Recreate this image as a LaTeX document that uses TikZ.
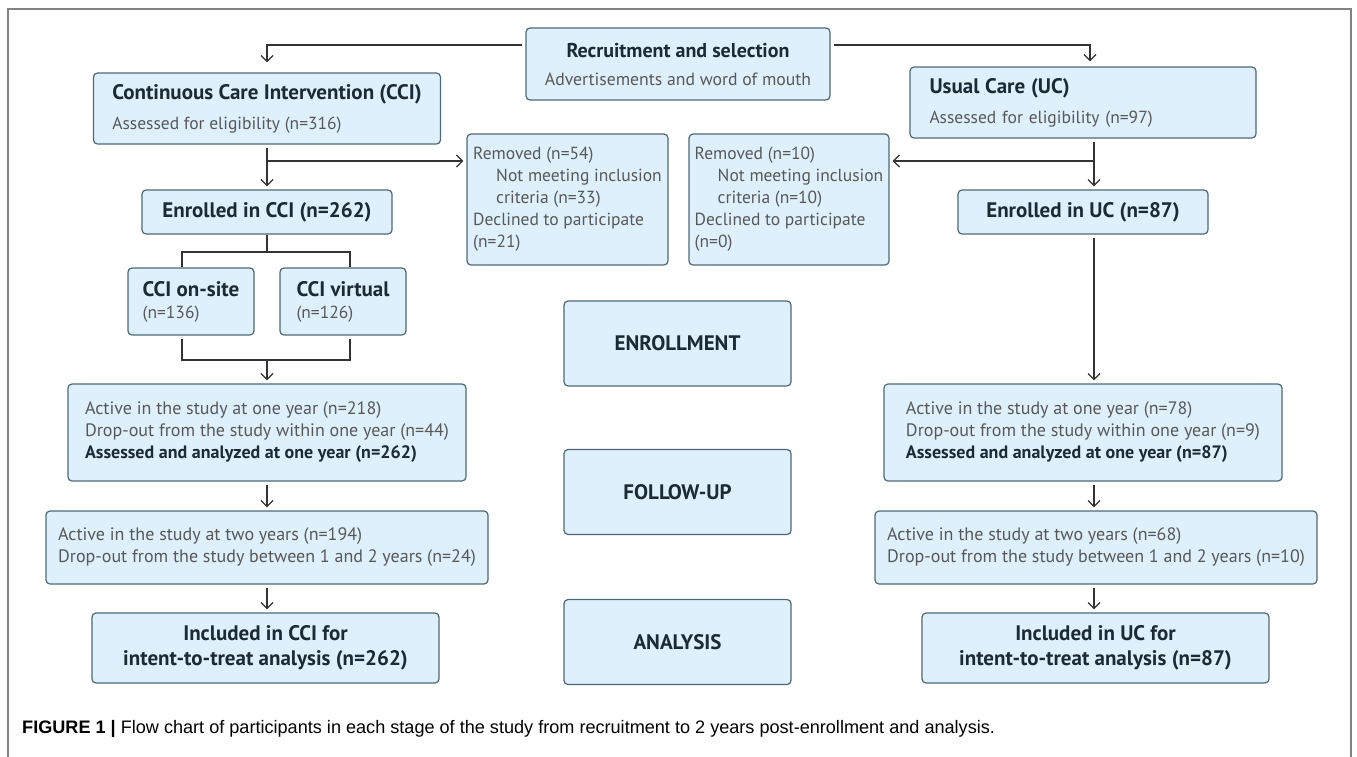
\documentclass[tikz,border=0pt]{standalone}
\usepackage{fontspec}
\setmainfont{PT Sans}
\newfontfamily\capfont{Liberation Sans}
\usepackage{tikz}
\usetikzlibrary{arrows.meta}
\definecolor{boxfill}{RGB}{222,240,251}
\definecolor{boxline}{RGB}{78,104,118}
\definecolor{headtxt}{RGB}{28,42,52}
\definecolor{bodytxt}{RGB}{88,88,88}
\definecolor{framegrey}{RGB}{130,130,130}
\tikzstyle{group} = [rectangle, rounded corners=4pt, draw=boxline, fill=boxfill, line width=1.2pt, text=bodytxt, font=\fontsize{17.5}{22}\selectfont, align=left, inner sep=0pt]
\tikzstyle{single} = [rectangle, rounded corners=4pt, draw=boxline, fill=boxfill, line width=1.2pt, text=headtxt, font=\fontsize{21}{25}\selectfont\bfseries, align=center, inner sep=0pt]
\tikzstyle{phase} = [single, minimum width=227pt, minimum height=85pt]
\tikzstyle{arrow} = [line width=1.3pt, draw=black!80, -{Straight Barb[length=6pt,width=12pt]}, shorten >=3pt, shorten <=3pt]
\tikzstyle{line} = [line width=1.3pt, draw=black!80]

\begin{document}
\begin{tikzpicture}[x=1pt, y=-1pt]
    \useasboundingbox (0,0) rectangle (1357,756);
    \draw [framegrey, line width=1.2pt] (8,770) -- (8,9) -- (1351,9) -- (1351,770);
    % top row
    \node (rec) [single, minimum width=304pt, minimum height=72pt, font=\fontsize{20}{22}\selectfont\bfseries] at (678,64) {Recruitment and selection\\[6pt] {\mdseries\fontsize{17.7}{22}\selectfont\color{bodytxt}Advertisements and word of mouth}};
    \node (cci) [group, minimum width=347pt, minimum height=71pt] at (267,108.5) {{\fontsize{21}{22}\selectfont\bfseries\color{headtxt}Continuous Care Intervention (CCI)}\\[8pt] Assessed for eligibility (n=316)};
    \node (uc) [group, minimum width=346pt, minimum height=71pt, text width=307pt] at (1083,102.5) {{\fontsize{21}{22}\selectfont\bfseries\color{headtxt}Usual Care (UC)}\\[8pt] Assessed for eligibility (n=97)};
    % removed
    \node (reml) [group, minimum width=201pt, minimum height=131pt] at (567.5,199.5) {Removed (n=54)\\ \hspace*{23pt}Not meeting inclusion\\ \hspace*{23pt}criteria (n=33)\\ Declined to participate\\ (n=21)};
    \node (remr) [group, minimum width=200pt, minimum height=131pt] at (789,199.5) {Removed (n=10)\\ \hspace*{23pt}Not meeting inclusion\\ \hspace*{23pt}criteria (n=10)\\ Declined to participate\\ (n=0)};
    % enrollment
    \node (enrcci) [single, minimum width=250pt, minimum height=44pt] at (267,212) {Enrolled in CCI (n=262)};
    \node (enruc) [single, minimum width=250pt, minimum height=44pt] at (1083,212) {Enrolled in UC (n=87)};
    \node (onsite) [group, minimum width=126pt, minimum height=67pt] at (191,301.5) {{\fontsize{21}{22}\selectfont\bfseries\color{headtxt}CCI on-site}\\ (n=136)};
    \node (virtual) [group, minimum width=126pt, minimum height=67pt] at (343,301.5) {{\fontsize{21}{22}\selectfont\bfseries\color{headtxt}CCI virtual}\\ (n=126)};
    % follow-up
    \node (actcci) [group, minimum width=398pt, minimum height=97pt, font=\fontsize{18}{22}\selectfont] at (267,432.5) {Active in the study at one year (n=218)\\ Drop-out from the study within one year (n=44)\\ {\bfseries\color{headtxt}Assessed and analyzed at one year (n=262)}};
    \node (actuc) [group, minimum width=398pt, minimum height=97pt, font=\fontsize{18}{22}\selectfont] at (1083,432.5) {Active in the study at one year (n=78)\\ Drop-out from the study within one year (n=9)\\ {\bfseries\color{headtxt}Assessed and analyzed at one year (n=87)}};
    \node (act2cci) [group, minimum width=442pt, minimum height=73pt, font=\fontsize{18}{22}\selectfont] at (267,547.5) {Active in the study at two years (n=194)\\ Drop-out from the study between 1 and 2 years (n=24)};
    \node (act2uc) [group, minimum width=442pt, minimum height=73pt, font=\fontsize{18}{22}\selectfont] at (1096,547.5) {Active in the study at two years (n=68)\\ Drop-out from the study between 1 and 2 years (n=10)};
    % analysis
    \node (inccci) [single, minimum width=347pt, minimum height=70pt] at (265.5,648) {Included in CCI for\\ intent-to-treat analysis (n=262)};
    \node (incuc) [single, minimum width=347pt, minimum height=70pt] at (1095.5,648) {Included in UC for\\ intent-to-treat analysis (n=87)};
    % stage labels
    \node (enrlab) [phase] at (677.5,343.5) {ENROLLMENT};
    \node (fuplab) [phase] at (677.5,492) {FOLLOW-UP};
    \node (anlab) [phase] at (677.5,642) {ANALYSIS};
    \node (caption) [anchor=west, inner sep=0pt, font=\capfont\fontsize{18.1}{20}\selectfont] at (22,729) {\textbf{FIGURE 1 |} Flow chart of participants in each stage of the study from recruitment to 2 years post-enrollment and analysis.};

    \coordinate (ucaxis) at (1094,0);
    \coordinate (lbranch) at (267,161);
    \coordinate (rbranch) at (1094,161);
    \coordinate (splittop) at (267,252);
    \coordinate (splitbot) at (267,360);

    \draw [arrow, shorten >=10pt] ([yshift=19pt]rec.west) -| (cci.north);
    \draw [arrow, shorten >=5pt] ([yshift=19pt]rec.east) -| ([xshift=7pt]uc.north);
    \draw [arrow] (cci.south) -- (enrcci.north);
    \draw [arrow, shorten <=0pt] (lbranch) -- (lbranch -| reml.west);
    \draw [arrow] (uc.south -| ucaxis) -- (enruc.north -| ucaxis);
    \draw [arrow, shorten <=0pt] (rbranch) -- (rbranch -| remr.east);
    \draw [line] (enrcci.south) -- (splittop);
    \draw [line] ([xshift=-9pt]onsite.north) |- (splittop) -| ([xshift=7pt]virtual.north);
    \draw [line] ([xshift=-9pt,yshift=-3pt]onsite.south) |- (splitbot) -| ([xshift=7pt,yshift=-3pt]virtual.south);
    \draw [arrow, shorten <=0pt] (splitbot) -- (actcci.north);
    \draw [arrow] (enruc.south -| ucaxis) -- (actuc.north -| ucaxis);
    \draw [arrow] (actcci.south) -- (act2cci.north);
    \draw [arrow] (actuc.south -| ucaxis) -- (act2uc.north -| ucaxis);
    \draw [arrow] (act2cci.south) -- (act2cci.south |- inccci.north);
    \draw [arrow] (act2uc.south -| ucaxis) -- (incuc.north -| ucaxis);
\end{tikzpicture}
\end{document}
